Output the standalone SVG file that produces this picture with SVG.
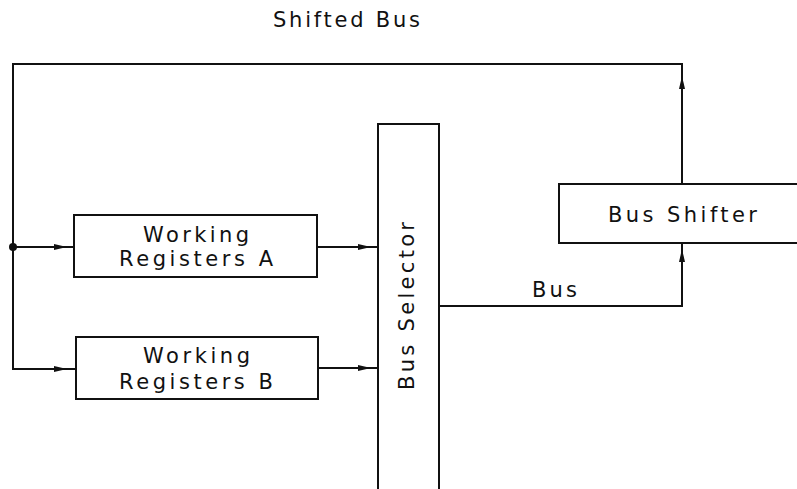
<svg xmlns="http://www.w3.org/2000/svg" width="797" height="489" viewBox="0 0 797 489">
<defs>
<style>
.box{fill:#fff;stroke:#111;stroke-width:2}
.ln{fill:none;stroke:#111;stroke-width:2}
.t{font-family:"DejaVu Sans","Liberation Sans",sans-serif;font-size:21px;fill:#111}
</style>
<marker id="ah" markerUnits="userSpaceOnUse" markerWidth="14" markerHeight="8" refX="13" refY="4" orient="auto">
<path d="M0,1 L13,4 L0,7 z" fill="#111"/>
</marker>
</defs>
<rect width="797" height="489" fill="#fff"/>
<text class="t" x="273" y="27" textLength="147" lengthAdjust="spacing">Shifted Bus</text>
<g id="connectors">
<path class="ln" d="M682,184 L682,76" marker-end="url(#ah)"/>
<path class="ln" d="M682,76 L682,64 L13,64 L13,369 L67,369" marker-end="url(#ah)"/>
<path class="ln" d="M67,369 L76,369"/>
<path class="ln" d="M13,247 L67,247" marker-end="url(#ah)"/>
<path class="ln" d="M67,247 L74,247"/>
<path class="ln" d="M317,247 L371,247" marker-end="url(#ah)"/>
<path class="ln" d="M371,247 L378,247"/>
<path class="ln" d="M318,368 L371,368" marker-end="url(#ah)"/>
<path class="ln" d="M371,368 L378,368"/>
<path class="ln" d="M439,306 L682,306 L682,249" marker-end="url(#ah)"/>
<path class="ln" d="M682,249 L682,243"/>
<circle cx="13" cy="247" r="4" fill="#111"/>
<text class="t" x="532" y="297" textLength="45" lengthAdjust="spacing">Bus</text>
</g>
<g id="wra">
<rect class="box" x="74" y="215" width="243" height="62"/>
<text class="t" x="143" y="242" textLength="106" lengthAdjust="spacing">Working</text>
<text class="t" x="119" y="266" textLength="154" lengthAdjust="spacing">Registers A</text>
</g>
<g id="wrb">
<rect class="box" x="76" y="337" width="242" height="62"/>
<text class="t" x="143" y="363" textLength="107" lengthAdjust="spacing">Working</text>
<text class="t" x="119" y="389" textLength="154" lengthAdjust="spacing">Registers B</text>
</g>
<g id="bus-selector">
<rect class="box" x="378" y="124" width="61" height="380"/>
<text class="t" transform="translate(414,390) rotate(-90)" x="0" y="0" textLength="168" lengthAdjust="spacing">Bus Selector</text>
</g>
<g id="bus-shifter">
<rect class="box" x="559" y="184" width="260" height="59"/>
<text class="t" x="608" y="222" textLength="149" lengthAdjust="spacing">Bus Shifter</text>
</g>
</svg>
